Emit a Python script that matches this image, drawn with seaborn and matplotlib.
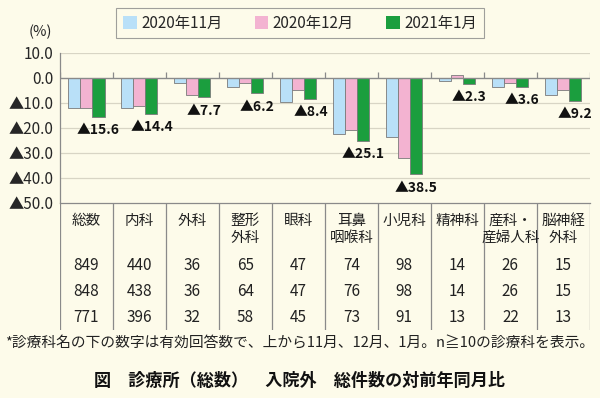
import numpy as np
import pandas as pd
import seaborn as sns
import matplotlib.pyplot as plt
from matplotlib.patches import Patch

# Data
cats = ['総数', '内科', '外科', '整形\n外科', '眼科', '耳鼻\n咽喉科', '小児科', '精神科', '産科・\n産婦人科', '脳神経\n外科']
months = ['2020年11月', '2020年12月', '2021年1月']
nov = [-12.1, -12.1, -2.0, -3.5, -9.5, -22.3, -23.5, -1.5, -3.6, -6.9]
dec = [-12.1, -11.3, -6.9, -2.0, -4.9, -20.7, -32.1, 1.1, -2.2, -4.9]
jan = [-15.6, -14.4, -7.7, -6.2, -8.4, -25.1, -38.5, -2.3, -3.6, -9.2]
n_nov = [849, 440, 36, 65, 47, 74, 98, 14, 26, 15]
n_dec = [848, 438, 36, 64, 47, 76, 98, 14, 26, 15]
n_jan = [771, 396, 32, 58, 45, 73, 91, 13, 22, 13]
yticks = [10, 0, -10, -20, -30, -40, -50]

colors = ['#b9e0f8', '#f3b3d1', '#1b9e3e']
bg = '#fdfbea'

sns.set_style('white')
plt.rcParams['font.family'] = ['Noto Sans CJK JP', 'DejaVu Sans']

df = pd.DataFrame({
    'cat': cats * 3,
    'month': np.repeat(months, len(cats)),
    'val': nov + dec + jan,
})

fig = plt.figure(figsize=(6, 3.98), dpi=100, facecolor=bg)
ax = fig.add_axes([0.1, 0.49, 0.883, 0.3776])
ax.set_facecolor(bg)

sns.barplot(data=df, x='cat', y='val', hue='month', order=cats, hue_order=months,
            palette=colors, width=0.68, edgecolor='#7a7a7a', linewidth=0.6,
            saturation=1, ax=ax)
ax.get_legend().remove()

ax.set_xlim(-0.5, len(cats) - 0.5)
ax.set_ylim(-50, 10)
ax.set_yticks(yticks)
ax.set_yticklabels([('▲%.1f' % -v) if v < 0 else '%.1f' % v for v in yticks], fontsize=11)
ax.tick_params(axis='y', direction='out', length=3, width=0.8, color='#888', pad=2)
ax.set_xticks([])
ax.set_xlabel('')
ax.set_ylabel('')
for y in yticks[:1] + yticks[2:-1]:
    ax.axhline(y, color='#d8d5c5', lw=0.9, zorder=0)
ax.axhline(0, color='#8a8a8a', lw=1.0, zorder=3)
ax.vlines(np.arange(len(cats) + 1) - 0.5, 0, 2.4, color='#8a8a8a', lw=0.9, zorder=3)
for s in ['top', 'right']:
    ax.spines[s].set_visible(False)
for s in ['left', 'bottom']:
    ax.spines[s].set_color('#8a8a8a')
    ax.spines[s].set_linewidth(0.9)

# value labels under January bars
bw = 0.68 / 3
for i, v in enumerate(jan):
    ax.text(i + bw, v - 5.4, '▲%.1f' % -v, ha='center', va='center',
            fontsize=10, fontweight='bold', color='#111')

fig.text(40 / 600, 1 - 32 / 398, '(%)', ha='center', va='center', fontsize=10.5)

# legend
handles = [Patch(facecolor=c, edgecolor='none') for c in colors]
leg = fig.legend(handles, months, loc='center', bbox_to_anchor=(0.5, 1 - 23 / 398), ncol=3,
                 frameon=True, fancybox=False, edgecolor='#888', facecolor=bg,
                 fontsize=11, handlelength=0.9, handleheight=0.9, handletextpad=0.3,
                 columnspacing=2.1, borderpad=0.45, borderaxespad=0)
leg.get_frame().set_linewidth(0.8)

# table under the chart
tax = fig.add_axes([0.1, 1 - 330 / 398, 0.883, 127 / 398])
tax.set_xlim(-0.5, len(cats) - 0.5)
tax.set_ylim(127, 0)
tax.axis('off')
tax.vlines(np.arange(len(cats) + 1) - 0.5, 0, 127, color='#8a8a8a', lw=0.9)
for i, c in enumerate(cats):
    tax.text(i, 11, c, ha='center', va='top', fontsize=10.5, linespacing=1.25, color='#222')
    for y, row in zip([62, 88, 114], [n_nov, n_dec, n_jan]):
        tax.text(i, y, str(row[i]), ha='center', va='center', fontsize=11, color='#222')

fig.text(0.008, 1 - 343 / 398, '*診療科名の下の数字は有効回答数で、上から11月、12月、1月。n≧10の診療科を表示。',
         ha='left', va='center', fontsize=10.6, color='#222')
fig.text(0.5, 1 - 381 / 398, '図　診療所（総数）　入院外　総件数の対前年同月比',
         ha='center', va='center', fontsize=12.3, fontweight='bold', color='#111')

fig.savefig('out.png', dpi=100, facecolor=bg)
